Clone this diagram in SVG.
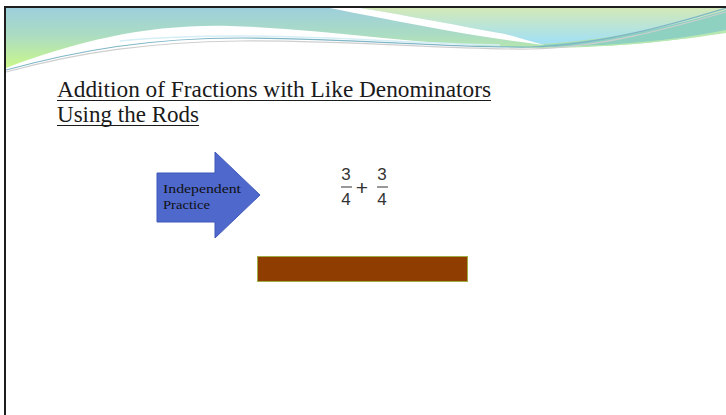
<svg xmlns="http://www.w3.org/2000/svg" width="726" height="415" viewBox="0 0 726 415">
  <defs>
    <linearGradient id="gMain" gradientUnits="userSpaceOnUse" x1="0" y1="8" x2="0" y2="68">
      <stop offset="0" stop-color="#9dcfdc"/>
      <stop offset="0.45" stop-color="#abdcc3"/>
      <stop offset="1" stop-color="#c9f78a"/>
    </linearGradient>
    <linearGradient id="gPale" gradientUnits="userSpaceOnUse" x1="0" y1="8" x2="0" y2="42">
      <stop offset="0" stop-color="#d3e9b8"/>
      <stop offset="1" stop-color="#a4e0f3"/>
    </linearGradient>
    <style>
      .title { font-family: "Liberation Serif", "DejaVu Serif", serif; font-size: 23px; fill: #1a1a1a; }
      .ul { stroke: #1a1a1a; stroke-width: 1; }
      .lbl { font-family: "Liberation Serif", "DejaVu Serif", serif; font-size: 13.5px; fill: #111; }
      .num { font-family: "Liberation Sans", "DejaVu Sans", sans-serif; font-size: 17px; fill: #333; text-anchor: middle; }
      .plus { font-family: "Liberation Sans", "DejaVu Sans", sans-serif; font-size: 21px; fill: #333; text-anchor: middle; }
    </style>
  </defs>
  <rect x="0" y="0" width="726" height="415" fill="#ffffff"/>

  <!-- header decoration -->
  <g id="header">
    <path d="M6,8 H726 V31 C 680,41 620,47 545,48 C 440,48 330,29 230,26 C 150,24 80,40 6,68 Z" fill="url(#gMain)"/>
    <path d="M360,8 H726 V12 C 670,26 610,40 540,44 C 525,41 512,37 500,33 C 450,24 400,15 360,8 Z" fill="url(#gPale)"/>
    <path d="M330,8 L360,8 C 410,16 460,26 505,34 C 520,38 532,42 545,45 C 480,38 400,22 330,8 Z" fill="#ffffff"/>
    <path d="M540,45 C 620,40 680,24 726,10 V30 C 680,40 620,45 555,47 Z" fill="#8fd1c1"/>
    <path d="M726,30 C 680,40 620,45 560,47 C 620,47 680,40 726,33 Z" fill="#b6e8b0"/>
    <path d="M6,72 C 80,52 150,42 240,41 C 350,40 450,50 530,49 C 600,48 670,28 726,12" fill="none" stroke="#cfcfcf" stroke-width="1.2"/>
    <path d="M6,70 C 80,50 150,38 240,38 C 350,38 450,48 530,47 C 600,45 670,25 726,8" fill="none" stroke="#7fb6c6" stroke-width="1.2"/>
    <path d="M120,41 C 160,37 200,36 240,36 C 330,36 420,44 500,45" fill="none" stroke="#d6eef6" stroke-width="1.5"/>
  </g>

  <!-- frame -->
  <g id="frame" fill="none" stroke="#1e1e1e" stroke-width="2">
    <line x1="5" y1="7" x2="726" y2="7"/>
    <line x1="5" y1="6" x2="5" y2="415"/>
  </g>

  <!-- title -->
  <g id="title">
    <text class="title" x="57" y="97" textLength="434" lengthAdjust="spacingAndGlyphs">Addition of Fractions with Like Denominators</text>
    <line class="ul" x1="57" y1="100.5" x2="491" y2="100.5"/>
    <text class="title" x="57" y="122" textLength="142" lengthAdjust="spacingAndGlyphs">Using the Rods</text>
    <line class="ul" x1="57" y1="125.5" x2="199" y2="125.5"/>
  </g>

  <!-- arrow -->
  <g id="arrow">
    <path d="M157,173 H215 V152 L260,195 L215,238 V222 H157 Z" fill="#4f68cc" stroke="#3e57b8" stroke-width="1"/>
    <text class="lbl" x="163" y="193" textLength="78" lengthAdjust="spacingAndGlyphs">Independent</text>
    <text class="lbl" x="163" y="209" textLength="47" lengthAdjust="spacingAndGlyphs">Practice</text>
  </g>

  <!-- expression -->
  <g id="expression">
    <text class="num" x="346" y="180">3</text>
    <line x1="341" y1="187" x2="352" y2="187" stroke="#333" stroke-width="1"/>
    <text class="num" x="346" y="205">4</text>
    <text class="plus" x="362" y="195">+</text>
    <text class="num" x="382" y="180">3</text>
    <line x1="377" y1="187" x2="388" y2="187" stroke="#333" stroke-width="1"/>
    <text class="num" x="382" y="205">4</text>
  </g>

  <!-- rod -->
  <g id="rod">
    <rect x="257.5" y="256.5" width="210" height="25" fill="#8f3d00" stroke="#a0ad45" stroke-width="1"/>
  </g>
</svg>
